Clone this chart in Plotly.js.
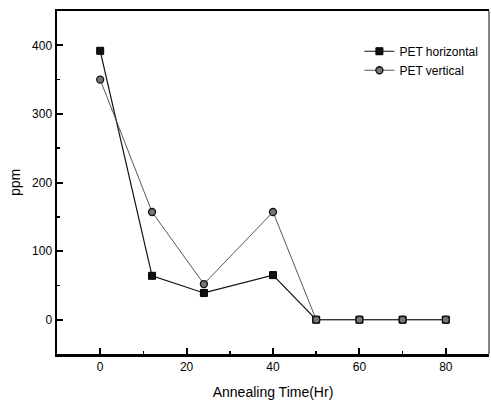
<!DOCTYPE html>
<html><head><meta charset="utf-8">
<script src="https://cdn.plot.ly/plotly-3.0.1.min.js"></script>
<style>body{margin:0;background:#fff}#c{width:491px;height:401px}</style>
</head><body><div id="c"></div>
<script>
const timeHours = [0, 12, 24, 40, 50, 60, 70, 80];
const petHorizontal = [392, 64, 39, 65, 0, 0, 0, 0];
const petVertical = [350, 157, 52, 157, 0, 0, 0, 0];
const xTicks = [0, 20, 40, 60, 80];
const yTicks = [0, 100, 200, 300, 400];

const traces = [
  {x: timeHours, y: petHorizontal, name: 'PET horizontal', mode: 'lines+markers',
   line: {color: '#111', width: 1.2},
   marker: {symbol: 'square', size: 7, color: '#111', line: {color: '#000', width: 1}}},
  {x: timeHours, y: petVertical, name: 'PET vertical', mode: 'lines+markers',
   line: {color: '#444', width: 0.9},
   marker: {symbol: 'circle', size: 7, color: '#777', line: {color: '#111', width: 1.3}}}
];
const font = {family: 'Liberation Sans, Arial, sans-serif', color: '#000'};
const layout = {
  width: 491, height: 401,
  margin: {l: 57, r: 2, t: 11, b: 47},
  paper_bgcolor: '#fff', plot_bgcolor: '#fff',
  font: Object.assign({size: 12}, font),
  showlegend: true,
  legend: {x: 0.7, y: 0.925, xanchor: 'left', yanchor: 'top', bgcolor: 'rgba(0,0,0,0)',
           font: {size: 12, family: font.family, color: '#000'}, tracegroupgap: 0, itemwidth: 30},
  xaxis: {range: [-10, 90], tickvals: xTicks, ticks: 'inside', ticklen: 6, tickwidth: 2, tickcolor: '#000',
          minor: {dtick: 10, tick0: 0, ticks: 'inside', ticklen: 3, tickwidth: 1.5, tickcolor: '#000'},
          showline: true, linewidth: 2.5, linecolor: '#000', mirror: true, showgrid: false, zeroline: false,
          tickfont: {size: 12}, title: {text: 'Annealing Time(Hr)', font: {size: 14}, standoff: 15}},
  yaxis: {range: [-50, 450], tickvals: yTicks, ticks: 'inside', ticklen: 6, tickwidth: 2, tickcolor: '#000',
          minor: {dtick: 50, tick0: 0, ticks: 'inside', ticklen: 3, tickwidth: 1.5, tickcolor: '#000'},
          showline: true, linewidth: 2.5, linecolor: '#000', mirror: false, showgrid: false, zeroline: false,
          tickfont: {size: 12}, title: {text: 'ppm', font: {size: 14}, standoff: 8}},
  shapes: [{type: 'line', xref: 'paper', yref: 'paper', x0: 1, x1: 1, y0: 0, y1: 1,
            line: {color: '#333', width: 1.2}}]
};
Plotly.newPlot('c', traces, layout, {displayModeBar: false, staticPlot: true});
</script></body></html>
